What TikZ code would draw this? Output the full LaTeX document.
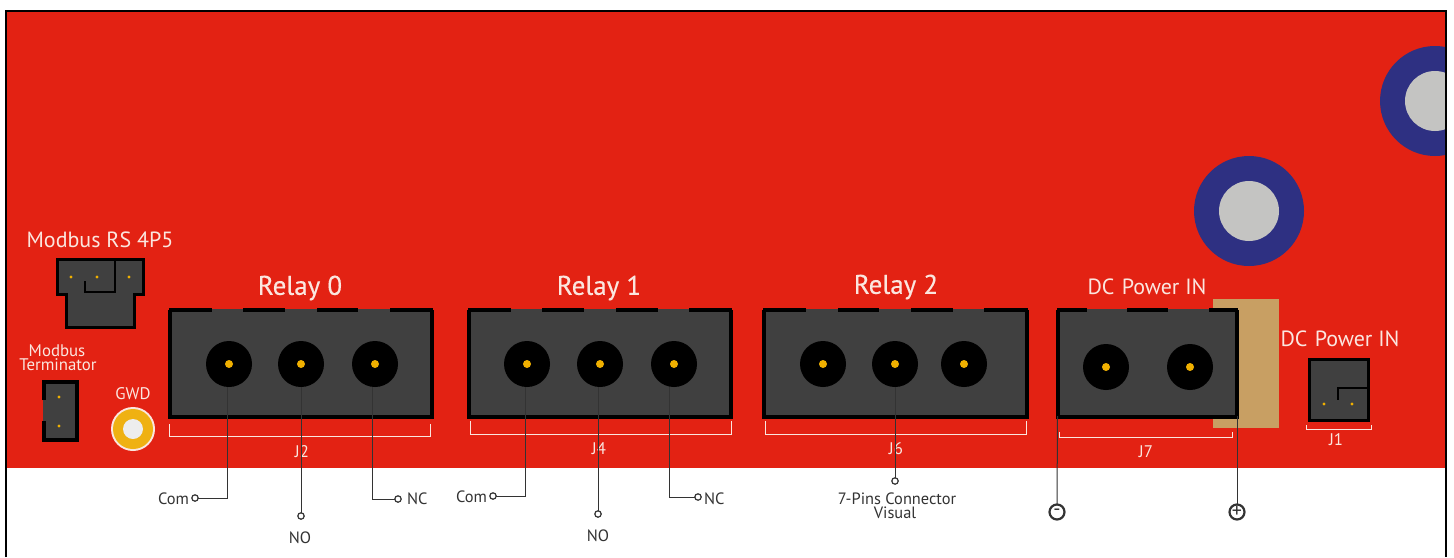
\documentclass[tikz,border=0pt]{standalone}
\usepackage{fontspec}
\setmainfont{PT Sans}
\newfontfamily\silkfont[FakeBold=0.35]{PT Sans}
\definecolor{pcb}{HTML}{E32213}
\definecolor{body}{HTML}{404040}
\definecolor{pinc}{HTML}{F0B000}
\definecolor{padc}{HTML}{EFB112}
\definecolor{tan}{HTML}{C89F63}
\definecolor{navy}{HTML}{2E3082}
\definecolor{hole}{HTML}{C4C4C2}
\definecolor{silk}{HTML}{FBE6DF}
\definecolor{ink}{HTML}{333333}
\tikzset{
  x=0.5pt,y=-0.5pt,
  every node/.style={inner sep=0pt,outer sep=0pt,font=\fontsize{8.2}{8.2}\selectfont},
  biglabel/.style={text=silk,font=\silkfont\fontsize{13.5}{13.5}\selectfont},
  midlabel/.style={text=silk,font=\fontsize{11}{11}\selectfont},
  smallsilk/.style={text=silk,font=\fontsize{8.4}{8.4}\selectfont},
  inktext/.style={text=ink,font=\fontsize{8.2}{8.2}\selectfont},
  socket/.style={circle,fill=black,minimum size=23pt},
  pincore/.style={circle,fill=pinc,minimum size=4pt},
  tinypin/.style={circle,fill=pinc,minimum size=1.6pt},
  terminal/.style={circle,draw=ink,line width=0.6pt,fill=white,minimum size=3.2pt},
  polarity/.style={circle,draw=ink,line width=1.1pt,fill=white,minimum size=7.5pt,text=ink,font=\fontsize{10}{10}\selectfont},
  wire/.style={draw=ink,line width=0.5pt},
  bracket/.style={draw=silk,line width=0.5pt},
  shell/.style={fill=body,draw=black,line width=1.5pt,line join=miter},
  edge/.style={draw=black,line width=2pt},
}
\newcommand{\jbox}[3]{% left, right, top segments
  \fill[body] (#1,309) rectangle (#2,418);
  \draw[edge] (#1+1,310) -- (#1+1,417) -- (#2-1,417) -- (#2-1,310);
  \foreach \a/\b in {#3} {\fill[black] (\a,308) rectangle (\b,312);}
}
\begin{document}
\begin{tikzpicture}
\useasboundingbox (0,0) rectangle (1454,557);
\fill[white] (0,0) rectangle (1454,557);
\fill[pcb] (6,11) rectangle (1446,468);
\begin{scope}
  \clip (6,11) rectangle (1445,468);
  \fill[navy] (1435,101) circle[radius=55];
  \fill[hole] (1435,101) circle[radius=30];
\end{scope}
\fill[navy] (1249,211) circle[radius=55];
\fill[hole] (1249,211) circle[radius=30];
\draw[black,line width=1.2pt] (6,557) -- (6,11) -- (1446,11) -- (1446,557);

% tan block
\fill[tan] (1213,299) rectangle (1279,428);

% screw-terminal blocks
\jbox{169}{433}{169/212,243/285,317/358,390/433}
\jbox{468}{732}{468/511,542/584,616/658,689/732}
\jbox{763}{1028}{763/806,838/879,911/953,984/1028}
\jbox{1057}{1238}{1057/1087,1127/1168,1209/1238}

% sockets
\foreach \n/\x/\y in {a0/229/364,b0/301/364,c0/375/364,a1/527/364,b1/600/364,c1/674/364,a2/823/364,b2/895/364,c2/964/364,m7/1106/367,p7/1190/367}{
  \node[socket] (s\n) at (\x,\y) {};
  \node[pincore] at (\x,\y) {};
}

% Modbus RS connector
\draw[shell] (57.5,259.5) -- (143,259.5) -- (143,294) -- (134.5,294) -- (134.5,327.5) -- (66,327.5) -- (66,294) -- (57.5,294) -- cycle;
\draw[black,line width=1.2pt] (115,259) -- (115,292) -- (85,292) -- (85,281);
\foreach \x in {71,97,129} \node[tinypin] at (\x,277) {};

% Terminator header
\fill[body] (43,381) rectangle (77,440);
\draw[edge] (44,400) -- (44,381.5) -- (77,381.5) -- (77,439.5) -- (44,439.5) -- (44,421);
\node[tinypin] at (59,397) {};
\node[tinypin] at (59,426) {};

% GWD pad
\fill[silk] (133,429) circle[radius=22];
\fill[padc] (133,429) circle[radius=20];
\fill[white!93!black] (133,429) circle[radius=10];

% J1 header
\draw[shell] (1309.5,359.5) rectangle (1368,420);
\draw[black,line width=1.2pt] (1369,388) -- (1338,388) -- (1338,400);
\node[tinypin] at (1324,404) {};
\node[tinypin] at (1352,404) {};

% silkscreen brackets
\draw[bracket] (169,424) |- (430,436) -- (430,424);
\draw[bracket] (470,421) |- (731,434) -- (731,421);
\draw[bracket] (765,421) |- (1026,434) -- (1026,421);
\draw[bracket] (1059,432) |- (1232,437) -- (1232,432);
\draw[bracket] (1306,425) |- (1371,429) -- (1371,425);

% silkscreen text
\node[biglabel] (lr0) at (300,288) {Relay 0};
\node[biglabel] (lr1) at (599,288) {Relay 1};
\node[biglabel] (lr2) at (896,287) {Relay 2};
\node[midlabel] (lmb) at (100,240) {Modbus RS 4P5};
\node[midlabel] (ldc) at (1147,287) {DC\,\,Power IN};
\node[midlabel] (ldd) at (1340,339) {DC\,\,Power IN};
\node[smallsilk] (lmt) at (57,351) {Modbus};
\node[smallsilk] (lte) at (58,365) {Terminator};
\node[smallsilk] (lgw) at (133,394) {GWD};
\node[smallsilk] (lj2) at (302,452) {J2};
\node[smallsilk] (lj4) at (599,449) {J4};
\node[smallsilk] (lj6) at (896,449) {J6};
\node[smallsilk] (lj7) at (1146,452) {J7};
\node[smallsilk] (lj1) at (1336,440) {J1};

% terminals
\node[terminal] (t0a) at (195,498) {};
\node[terminal] (t0b) at (301,516) {};
\node[terminal] (t0c) at (398,499) {};
\node[terminal] (t1a) at (493,496) {};
\node[terminal] (t1b) at (598,514) {};
\node[terminal] (t1c) at (698,497) {};
\node[terminal] (t2b) at (895,481) {};
\node[polarity] (tm) at (1057,512) {-};
\node[polarity] (tp) at (1237,512) {+};
\coordinate (jm) at (1057.5,416);
\coordinate (jp) at (1237,416);

% connectors
\draw[wire] ([xshift=-0.75pt]sa0.south) |- (t0a.east);
\draw[wire] (sb0.south) -- (t0b.north);
\draw[wire] ([xshift=-1.25pt]sc0.south) |- (t0c.west);
\draw[wire] ([xshift=-1pt]sa1.south) |- (t1a.east);
\draw[wire] ([xshift=-1pt]sb1.south) -- (t1b.north);
\draw[wire] ([xshift=-2.5pt]sc1.south) |- (t1c.west);
\draw[wire] (sb2.south) -- (t2b.north);
\draw[wire] (jm) -- (tm.north);
\draw[wire] (jp) -- (tp.north);

% terminal text
\node[inktext,anchor=east] (n0a) at (189,499) {Com};
\node[inktext] (n0b) at (300,538) {NO};
\node[inktext,anchor=west] (n0c) at (407,499) {NC};
\node[inktext,anchor=east] (n1a) at (487,497) {Com};
\node[inktext] (n1b) at (598,536) {NO};
\node[inktext,anchor=west] (n1c) at (704,499) {NC};
\node[inktext] (n2a) at (897,499) {7-Pins Connector};
\node[inktext] (n2b) at (895,513) {Visual};
\end{tikzpicture}
\end{document}
